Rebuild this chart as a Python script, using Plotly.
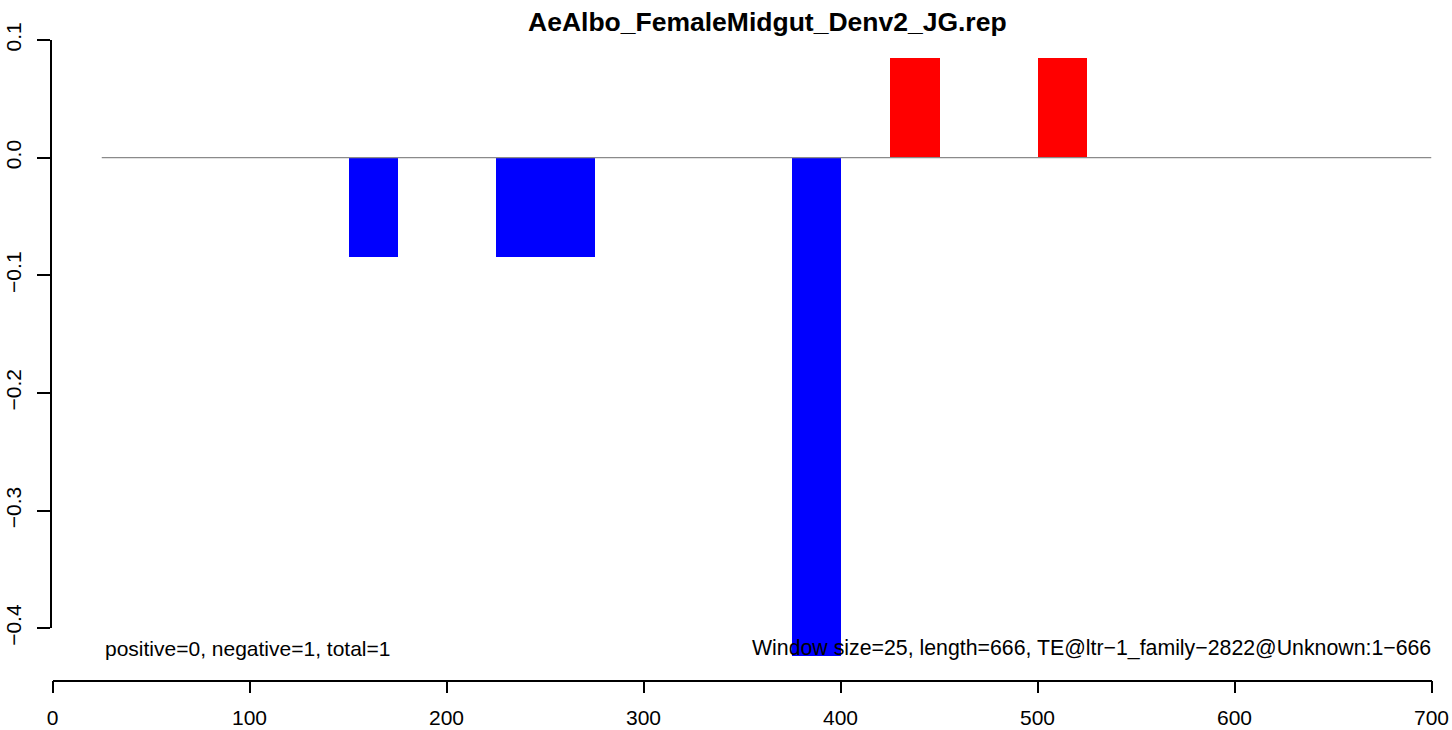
import plotly.graph_objects as go

# ---- data ----
title_text = "AeAlbo_FemaleMidgut_Denv2_JG.rep"
win_start = [150, 225, 250, 375, 425, 500]
window_size = 25
values = [-0.0847, -0.0847, -0.0847, -0.4235, 0.0847, 0.0847]
baseline_x = [25, 700]
baseline_y = [0, 0]
x_ticks = [0, 100, 200, 300, 400, 500, 600, 700]
y_ticks = [-0.4, -0.3, -0.2, -0.1, 0.0, 0.1]
y_ticktext = ["\u22120.4", "\u22120.3", "\u22120.2", "\u22120.1", "0.0", "0.1"]
left_note = "positive=0, negative=1, total=1"
right_note = "Window size=25, length=666, TE@ltr\u22121_family\u22122822@Unknown:1\u2212666"

W, H = 1452, 730
FONT = "Liberation Sans, Arial, Helvetica, sans-serif"
FS = 21

centers = [s + window_size / 2 for s in win_start]
colors = ["#FF0000" if v > 0 else "#0000FF" for v in values]

fig = go.Figure()
fig.add_trace(go.Bar(
    x=centers, y=values, width=[window_size] * len(values),
    marker=dict(color=colors, line=dict(width=0)),
    xaxis="x", yaxis="y", showlegend=False, hoverinfo="x+y",
))
fig.add_trace(go.Scatter(
    x=baseline_x, y=baseline_y, mode="lines",
    line=dict(color="#8a8a8a", width=1.2),
    xaxis="x", yaxis="y2", showlegend=False, hoverinfo="skip",
))

# pixel geometry
x0_px, x700_px = 52.5, 1431.5
y01_px, ym04_px = 40.0, 628.3
xaxis_px = 679.5
scale = (ym04_px - y01_px) / 0.5
y_bottom_val = 0.1 - (xaxis_px - y01_px) / scale

axis_common = dict(
    showgrid=False, zeroline=False, showline=True, linecolor="black",
    linewidth=1.5, ticks="outside", tickcolor="black", tickwidth=1.5,
    tickfont=dict(family=FONT, size=FS, color="black"),
)

fig.update_layout(
    width=W, height=H,
    margin=dict(l=0, r=0, t=0, b=0, autoexpand=False),
    paper_bgcolor="white", plot_bgcolor="rgba(0,0,0,0)",
    font=dict(family=FONT, size=FS, color="black"),
    showlegend=False,
    xaxis=dict(
        domain=[x0_px / W, x700_px / W], range=[0, 700],
        tickvals=x_ticks, ticklen=12, ticklabelstandoff=7,
        anchor="y", automargin=False, **axis_common,
    ),
    yaxis=dict(
        domain=[(H - xaxis_px) / H, (H - y01_px) / H],
        range=[y_bottom_val, 0.1], visible=False, fixedrange=True,
    ),
    yaxis2=dict(
        domain=[(H - ym04_px) / H, (H - y01_px) / H],
        range=[-0.4, 0.1], anchor="free", position=51.0 / W,
        tickvals=y_ticks, ticktext=y_ticktext, tickangle=-90,
        ticklen=13, ticklabelstandoff=8, automargin=False, **axis_common,
    ),
    bargap=0,
    annotations=[
        dict(text="<b>" + title_text + "</b>", xref="paper", yref="paper",
             x=767.5 / W, y=(H - 22) / H, xanchor="center", yanchor="middle",
             showarrow=False, font=dict(family=FONT, size=26.5, color="black")),
        dict(text=left_note, xref="paper", yref="paper", x=103.0 / W, y=(H - 648) / H,
             xanchor="left", yanchor="middle", showarrow=False,
             font=dict(family=FONT, size=FS, color="black")),
        dict(text=right_note, xref="paper", yref="paper", x=1433.0 / W, y=(H - 648) / H,
             xanchor="right", yanchor="middle", showarrow=False,
             font=dict(family=FONT, size=21.3, color="black")),
    ],
)

fig.write_html("out.html", config={"displayModeBar": False},
               post_script="document.body.style.margin='0';")
